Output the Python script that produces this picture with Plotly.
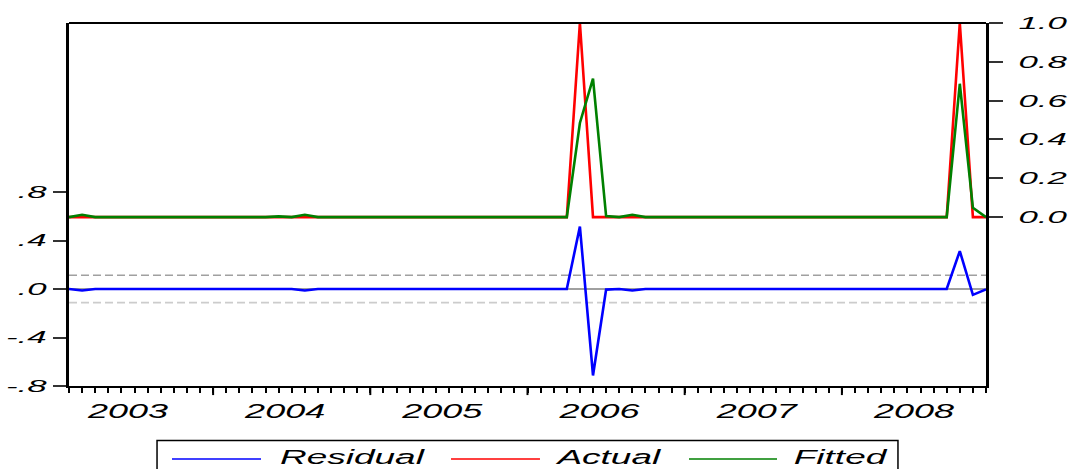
import pandas as pd
import plotly.graph_objects as go

# ---------------- data ----------------
months = [str(p) for p in pd.period_range("2003-02", "2008-12", freq="M")]
year_labels = ["2003", "2004", "2005", "2006", "2007", "2008"]

actual = [0, 0, 0, 0, 0, 0, 0, 0, 0, 0, 0,
          0, 0, 0, 0, 0, 0, 0, 0, 0, 0, 0, 0,
          0, 0, 0, 0, 0, 0, 0, 0, 0, 0, 0, 0,
          0, 0, 0, 0, 1, 0, 0, 0, 0, 0, 0, 0,
          0, 0, 0, 0, 0, 0, 0, 0, 0, 0, 0, 0,
          0, 0, 0, 0, 0, 0, 0, 0, 0, 1, 0, 0]

fitted = [0.0, 0.012, 0.0, 0.0, 0.0, 0.0, 0.0, 0.0, 0.0, 0.0, 0.0,
          0.0, 0.0, 0.0, 0.0, 0.0, 0.004, 0.0, 0.012, 0.0, 0.0, 0.0, 0.0,
          0.0, 0.0, 0.0, 0.0, 0.0, 0.0, 0.0, 0.0, 0.0, 0.0, 0.0, 0.0,
          0.0, 0.0, 0.0, 0.0, 0.485, 0.713, 0.005, 0.0, 0.012, 0.0, 0.0, 0.0,
          0.0, 0.002, 0.0, 0.0, 0.0, 0.0, 0.0, 0.0, 0.0, 0.0, 0.0, 0.0,
          0.0, 0.0, 0.0, 0.0, 0.0, 0.0, 0.0, 0.0, 0.0, 0.687, 0.048, 0.0]

residual = [0.0, -0.012, 0.0, 0.0, 0.0, 0.0, 0.0, 0.0, 0.0, 0.0, 0.0,
            0.0, 0.0, 0.0, 0.0, 0.0, -0.004, 0.0, -0.012, 0.0, 0.0, 0.0, 0.0,
            0.0, 0.0, 0.0, 0.0, 0.0, 0.0, 0.0, 0.0, 0.0, 0.0, 0.0, 0.0,
            0.0, 0.0, 0.0, 0.0, 0.515, -0.713, -0.005, 0.0, -0.012, 0.0, 0.0, 0.0,
            0.0, -0.002, 0.0, 0.0, 0.0, 0.0, 0.0, 0.0, 0.0, 0.0, 0.0, 0.0,
            0.0, 0.0, 0.0, 0.0, 0.0, 0.0, 0.0, 0.0, 0.0, 0.313, -0.048, -0.003]

std_err = 0.113

left_tickvals = [-0.8, -0.4, 0.0, 0.4, 0.8]
left_ticktext = ["-.8", "-.4", ".0", ".4", ".8"]
right_tickvals = [0.0, 0.2, 0.4, 0.6, 0.8, 1.0]

series_names = ["Residual", "Actual", "Fitted"]
series_colors = ["#0000ff", "#ff0000", "#008000"]

# ---------------- figure ----------------
x = list(range(len(months)))
n_last = len(months) - 1

fig = go.Figure()
fig.add_trace(go.Scatter(x=x, y=residual, name=series_names[0], mode="lines",
                         line=dict(color=series_colors[0], width=2.6),
                         yaxis="y", hovertext=months))
fig.add_trace(go.Scatter(x=x, y=actual, name=series_names[1], mode="lines",
                         line=dict(color=series_colors[1], width=2.6),
                         yaxis="y2", hovertext=months))
fig.add_trace(go.Scatter(x=x, y=fitted, name=series_names[2], mode="lines",
                         line=dict(color=series_colors[2], width=2.6),
                         yaxis="y2", hovertext=months))

# year label positions: centre of each year's Jan..Dec span
jan_idx = {}
for i, m in enumerate(months):
    if m.endswith("-01"):
        jan_idx[m[:4]] = i
first_year = int(year_labels[0])
year_pos = []
for yl in year_labels:
    j = (int(yl) - first_year) * 12 - (int(months[0][5:7]) - 1)
    year_pos.append(j + 5.5)

tick_font = dict(family="Liberation Sans, Arial", size=17, color="black", style="italic")
year_font = dict(family="Liberation Sans, Arial", size=20, color="black", style="italic")

fig.update_layout(
    width=1069, height=469,
    margin=dict(l=69, r=83, t=23, b=83, pad=0),
    paper_bgcolor="white", plot_bgcolor="white",
    showlegend=False,
    xaxis=dict(range=[0, n_last], showgrid=False, zeroline=False,
               showline=True, linecolor="black", linewidth=2,
               tickmode="array", tickvals=year_pos, ticktext=year_labels,
               ticks="", tickfont=year_font, ticklabelstandoff=6,
               minor=dict(tickmode="array", tickvals=x, ticks="outside",
                          ticklen=5, tickwidth=2, tickcolor="black", showgrid=False)),
    yaxis=dict(range=[-0.8, 2.194], showgrid=False, zeroline=False,
               showline=True, linecolor="black", linewidth=3,
               tickmode="array", tickvals=left_tickvals, ticktext=left_ticktext,
               ticks="outside", ticklen=13, tickwidth=1.5, tickcolor="#333",
               tickfont=tick_font, ticklabelstandoff=3),
    yaxis2=dict(range=[-0.87, 1.0], overlaying="y", side="right", anchor="x",
                showgrid=False, zeroline=False,
                showline=True, linecolor="black", linewidth=3,
                tickmode="array", tickvals=right_tickvals, tickformat=".1f",
                ticks="outside", ticklen=14, tickwidth=1.5, tickcolor="#333",
                tickfont=tick_font, ticklabelstandoff=12),
)

shapes = []
# top border
shapes.append(dict(type="line", xref="paper", yref="paper", x0=0, x1=1, y0=1, y1=1,
                   line=dict(color="black", width=2)))
# residual zero line and +/- std error bands
shapes.append(dict(type="line", xref="paper", yref="y", x0=0, x1=1, y0=0, y1=0,
                   line=dict(color="#808080", width=1.5), layer="below"))
shapes.append(dict(type="line", xref="paper", yref="y", x0=0, x1=1, y0=std_err, y1=std_err,
                   line=dict(color="#a0a0a0", width=1.5, dash="8px,4px"), layer="below"))
shapes.append(dict(type="line", xref="paper", yref="y", x0=0, x1=1, y0=-std_err, y1=-std_err,
                   line=dict(color="#cccccc", width=1.8, dash="8px,4px"), layer="below"))
# long ticks at the start of each year
for yl, j in jan_idx.items():
    shapes.append(dict(type="line", xref="x", yref="paper", x0=j, x1=j, y0=0, y1=-0.025,
                       line=dict(color="black", width=2)))

# legend (drawn manually to mimic the wide EViews legend box)
leg_y = -0.201
shapes.append(dict(type="rect", xref="paper", yref="paper", x0=0.096, x1=0.904,
                   y0=-0.15, y1=-0.30, line=dict(color="black", width=1.5)))
leg_line_x = [(0.1123, 0.2094), (0.4166, 0.5136), (0.6761, 0.7721)]
leg_text_x = [0.3081, 0.5883, 0.8413]
annotations = []
for name, col, (a, b), tx in zip(series_names, series_colors, leg_line_x, leg_text_x):
    shapes.append(dict(type="line", xref="paper", yref="paper", x0=a, x1=b, y0=leg_y, y1=leg_y,
                       line=dict(color=col, width=1.5)))
    annotations.append(dict(xref="paper", yref="paper", x=tx, y=leg_y + 0.006, text=name,
                            showarrow=False, xanchor="center", yanchor="middle",
                            font=year_font))
fig.update_layout(shapes=shapes, annotations=annotations)

post = """
var gd = document.getElementById('{plot_id}');
function stretch(sel, k){
  gd.querySelectorAll(sel).forEach(function(t){
    var L = t.getComputedTextLength();
    if (L > 0){ t.setAttribute('textLength', L*k); t.setAttribute('lengthAdjust','spacingAndGlyphs'); }
  });
}
stretch('.ytick text', 2.05);
stretch('.y2tick text', 2.05);
stretch('.xtick text', 1.8);
stretch('.annotation-text', 1.85);
"""

fig.write_html("out.html", post_script=post)
